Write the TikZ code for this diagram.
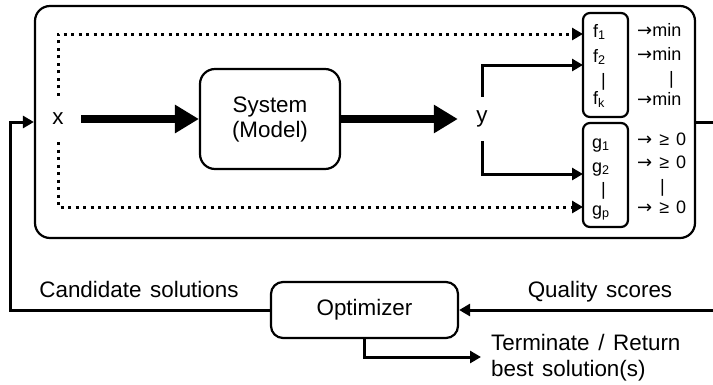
\documentclass[tikz,border=0pt]{standalone}
\usepackage{fontspec}
\setmainfont[WordSpace=1.4]{Liberation Sans}
\newfontfamily\arrfont{DejaVu Sans}
\newcommand{\rarr}{{\arrfont →}}
\usetikzlibrary{arrows.meta,calc}
\begin{document}
\begin{tikzpicture}[x=1pt,y=-1pt,
  box/.style={draw, line width=2.2pt, rounded corners=15pt, inner sep=0pt},
  sbox/.style={draw, line width=2.2pt, rounded corners=7pt, inner sep=0pt, minimum width=45pt},
  lbl/.style={font=\fontsize{22.4}{25}\selectfont, inner sep=0pt},
  sml/.style={font=\fontsize{18}{18}\selectfont, inner sep=0pt, anchor=base west},
  fat/.style={line width=8pt, -{Triangle[length=24pt,width=27pt]}},
  conn/.style={line width=3pt, -{Triangle[length=11pt,width=12pt]}},
  dotline/.style={line width=3pt, dash pattern=on 3pt off 4.5pt, -{Triangle[length=11pt,width=12pt]}},
  wire/.style={line width=3pt}
]
\useasboundingbox (0,0) rectangle (713,384);

% outer box
\node[box, minimum width=660pt, minimum height=232pt] (outer) at (365,122) {};

% system
\node[box, lbl, align=center, minimum width=140pt, minimum height=100pt] (sys) at (270,119) {System\\(Model)};

% x and y
\node[lbl, minimum width=46pt, minimum height=46pt] (x) at (58,119) {x};
\node[lbl, minimum width=48pt, minimum height=44pt] (y) at (482,119) {y};

% objective and constraint boxes
\node[sbox, minimum height=104pt] (fb) at (605.5,65) {};
\node[sbox, minimum height=104pt] (gb) at (605.5,175) {};

\node[sml] (f1) at (593,37) {f\textsubscript{1}};
\node[sml] (f2) at (593,62) {f\textsubscript{2}};
\node[sml] (fv) at (601,86) {|};
\node[sml] (fk) at (593,104) {f\textsubscript{k}};

\node[sml] (g1) at (592,148) {g\textsubscript{1}};
\node[sml] (g2) at (592,172) {g\textsubscript{2}};
\node[sml] (gv) at (601,195) {|};
\node[sml] (gp) at (592,215) {g\textsubscript{p}};

\node[sml] (m1) at (637,36) {\rarr min};
\node[sml] (m2) at (637,60) {\rarr min};
\node[sml] (mv) at (669,84) {|};
\node[sml] (m3) at (637,105) {\rarr min};

\node[sml] (c1) at (637,145) {\rarr{} ≥ 0};
\node[sml] (c2) at (637,168) {\rarr{} ≥ 0};
\node[sml] (cv) at (660,192) {|};
\node[sml] (c3) at (637,213) {\rarr{} ≥ 0};

% main flow
\draw[fat] (x.east) -- (sys.west);
\draw[fat] (sys.east) -- (y.west);

% y to boxes
\coordinate (ftip) at (583,65);
\coordinate (gtip) at (583,174);
\draw[conn] (y.north) |- (ftip);
\draw[conn] (y.south) |- (gtip);

% dotted x to boxes
\coordinate (dtop) at (583,34);
\coordinate (dbot) at (583,207);
\draw[dotline] (x.north) |- (dtop);
\draw[dotline] (x.south) |- (dbot);

% optimizer
\node[box, lbl, rounded corners=12pt, minimum width=187pt, minimum height=56pt] (opt) at (364.5,310) {Optimizer};

\coordinate (rin) at (716,310);
\coordinate (rout) at (716,122);
\coordinate (lcorner) at (10,310);
\coordinate (term) at (481,357);

\draw[wire] (outer.east) -- (rout);
\draw[conn] (rin) -- (opt.east);
\draw[conn] (opt.west) -- (lcorner) |- (outer.west);
\draw[conn] (opt.south) |- (term);

% labels
\node[lbl, anchor=base] (cand) at (139,297) {Candidate solutions};
\node[lbl, anchor=base] (qual) at (600,297) {Quality scores};
\node[lbl, anchor=base west] (t1) at (491,350) {Terminate / Return};
\node[lbl, anchor=base west] (t2) at (491,376) {best solution(s)};
\end{tikzpicture}
\end{document}
